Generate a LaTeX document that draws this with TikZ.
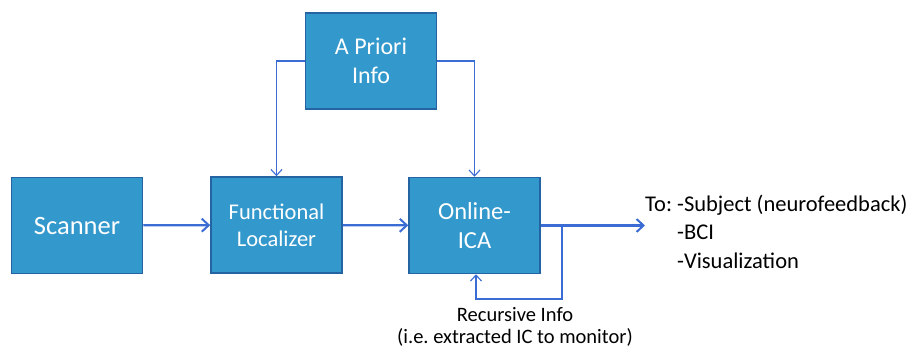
\documentclass[tikz,border=0pt]{standalone}
\usepackage{fontspec}
\setmainfont{Carlito}
\usetikzlibrary{arrows.meta,positioning,calc}
\definecolor{boxfill}{RGB}{51,152,204}
\definecolor{boxline}{RGB}{36,100,162}
\definecolor{flow}{RGB}{58,108,212}

\tikzset{
    block/.style={draw=boxline, line width=1.5pt, fill=boxfill, text=white,
        minimum width=131pt, minimum height=96pt, align=center, inner sep=2pt},
    bigflow/.style={draw=flow, line width=2.2pt, -{Straight Barb[length=7pt,width=13pt,line width=2pt]}},
    smallflow/.style={draw=flow, line width=1.1pt, -{Straight Barb[length=6pt,width=11pt,line width=1.1pt]}}
}

\begin{document}
\frenchspacing
\begin{tikzpicture}[x=1pt, y=-1pt]
    \useasboundingbox (0,0) rectangle (912,350);

    % main chain
    \node[block, font=\fontsize{26.5}{30}\selectfont] (scanner) at (77,225.5) {Scanner};
    \node[block, font=\fontsize{22.5}{27}\selectfont] (func) at (276.5,225) {Functional\\Localizer};
    \node[block, font=\fontsize{24.5}{29}\selectfont] (online) at (474.5,225.5) {Online-\\ICA};
    \node[block, font=\fontsize{24}{29}\selectfont] (apriori) at (371,61) {A Priori\\Info};

    % outputs
    \node[anchor=west, inner sep=0pt, font=\fontsize{22.5}{28.5}\selectfont] (dest) at (645,234)
        {\begin{tabular}{@{}l@{ }l@{}}To: & -Subject (neurofeedback)\\ & -BCI\\ & -Visualization\end{tabular}};
    \node[inner sep=0pt, align=center, font=\fontsize{20.5}{22.5}\selectfont] (rec) at (515,327)
        {Recursive Info\\(i.e. extracted IC to monitor)};

    % forward flow
    \draw[bigflow] (scanner) -- (func);
    \draw[bigflow] (func) -- (online);
    \draw[bigflow] (online.east) -- (online.east -| dest.west);

    % prior knowledge
    \draw[smallflow] (apriori.west) -| (func.north);
    \draw[smallflow] (apriori.east) -| (online.north);

    % recursion
    \coordinate (tap) at (562,225.5);
    \coordinate (loop) at (476,299);
    \draw[smallflow] (tap) |- (loop) -- (loop |- online.south);
\end{tikzpicture}
\end{document}
